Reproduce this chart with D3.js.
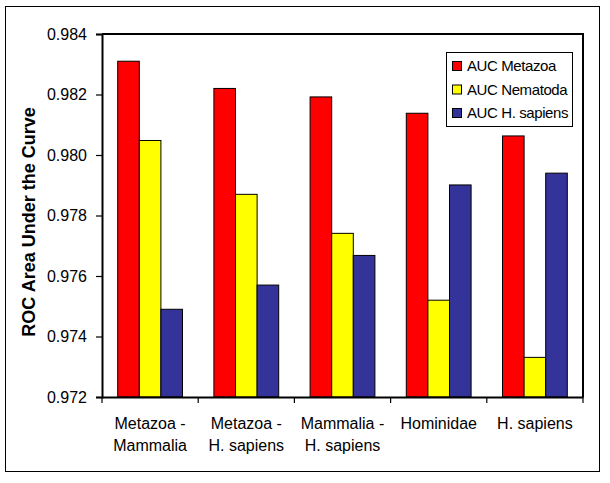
<!DOCTYPE html>
<html><head><meta charset="utf-8">
<script src="https://cdn.jsdelivr.net/npm/d3@7"></script>
<style>body{margin:0;background:#fff}svg{display:block;font-family:Arial,"Liberation Sans",sans-serif}</style>
</head><body><svg id="c" width="610" height="483"></svg>
<script>
const categories = [["Metazoa -","Mammalia"],["Metazoa -","H. sapiens"],["Mammalia -","H. sapiens"],["Hominidae"],["H. sapiens"]];
const seriesNames = ["AUC Metazoa","AUC Nematoda","AUC H. sapiens"];
const seriesColors = ["#FF0000","#FFFF00","#333399"];
const aucMetazoa  = [0.98310, 0.98220, 0.98192, 0.98138, 0.98063];
const aucNematoda = [0.98048, 0.97870, 0.97741, 0.97520, 0.97331];
const aucHsapiens = [0.97490, 0.97570, 0.97668, 0.97901, 0.97940];
const yTicks = [0.972, 0.974, 0.976, 0.978, 0.980, 0.982, 0.984];
const series = [aucMetazoa, aucNematoda, aucHsapiens];

const svg = d3.select("#c");
const L=102, T=34, R=583, B=397;

svg.append("rect").attr("x",5.5).attr("y",6.5).attr("width",594).attr("height",465)
  .attr("fill","#fff").attr("stroke","#000").attr("stroke-width",1);

const x0 = d3.scaleBand().domain(d3.range(categories.length)).range([L,R]).paddingInner(0).paddingOuter(0);
const x1 = d3.scaleBand().domain(d3.range(series.length)).range([15.7, x0.bandwidth()-15.7]);
const y = d3.scaleLinear().domain([0.972,0.984]).range([B,T]);

// bars
const g = svg.append("g");
categories.forEach((c,i)=>{
  series.forEach((s,j)=>{
    g.append("rect")
      .attr("x", x0(i)+x1(j)).attr("y", y(s[i]))
      .attr("width", x1.bandwidth()).attr("height", y(0.972)-y(s[i]))
      .attr("fill", seriesColors[j]).attr("stroke","#000").attr("stroke-width",1);
  });
});

// frame
svg.append("path").attr("d",`M${L},${T}H${R}V${B}`).attr("fill","none").attr("stroke","#000").attr("stroke-width",2);

// y axis
const ya = svg.append("g").attr("transform",`translate(${L},0)`)
  .call(d3.axisLeft(y).tickValues(yTicks).tickFormat(d3.format(".3f")).tickSize(6).tickPadding(9));
ya.select(".domain").attr("stroke-width",2);
ya.selectAll(".tick line").attr("stroke-width",1.2);
ya.selectAll("text").attr("font-size",16).attr("fill","#000").attr("font-family","Arial, 'Liberation Sans', sans-serif");

// x axis
const xa = svg.append("g").attr("transform",`translate(0,${B})`)
  .call(d3.axisBottom(x0).tickValues([]).tickSizeOuter(0));
xa.select(".domain").attr("stroke-width",2);
const bounds = d3.range(categories.length+1).map(i=> i<categories.length ? x0(i) : R);
xa.selectAll(".bt").data(bounds).enter().append("line").attr("class","bt")
  .attr("x1",d=>d).attr("x2",d=>d).attr("y1",0).attr("y2",6).attr("stroke","#000").attr("stroke-width",1.2);
categories.forEach((lines,i)=>{
  const t = svg.append("text").attr("x", x0(i)+x0.bandwidth()/2).attr("y", 429)
    .attr("text-anchor","middle").attr("font-size",16).attr("fill","#000");
  lines.forEach((ln,k)=> t.append("tspan").attr("x", x0(i)+x0.bandwidth()/2).attr("dy", k===0?0:22).text(ln));
});

// y title
svg.append("text").attr("transform","translate(35,222) rotate(-90)")
  .attr("text-anchor","middle").attr("font-size",18).attr("font-weight","bold").text("ROC Area Under the Curve");

// legend
const lg = svg.append("g");
lg.append("rect").attr("x",446.5).attr("y",52.5).attr("width",126).attr("height",74)
  .attr("fill","#fff").attr("stroke","#000").attr("stroke-width",1);
seriesNames.forEach((n,j)=>{
  const cy = 66 + j*23.5;
  lg.append("rect").attr("x",452.5).attr("y",cy-4.5).attr("width",9).attr("height",9)
    .attr("fill",seriesColors[j]).attr("stroke","#000").attr("stroke-width",1);
  lg.append("text").attr("x",467).attr("y",cy+5).attr("font-size",15).attr("letter-spacing",-0.4).text(n);
});
</script></body></html>
